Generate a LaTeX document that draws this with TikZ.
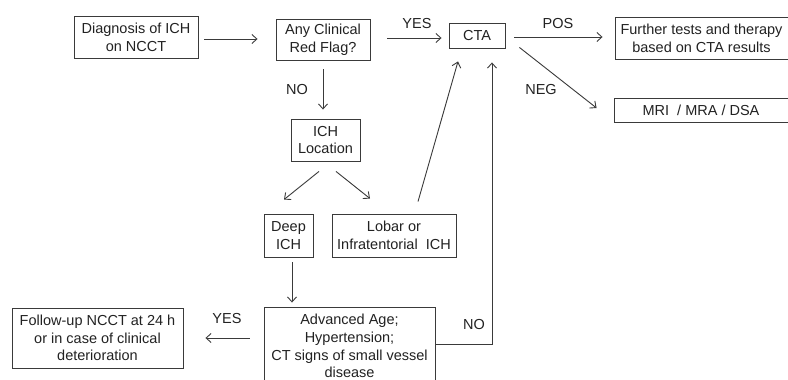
\documentclass[tikz,border=0pt]{standalone}
\usepackage{fontspec}
\setmainfont{Liberation Sans}
\usetikzlibrary{arrows.meta,calc}
\definecolor{ln}{HTML}{3A3A3A}
\definecolor{tx}{HTML}{222222}
\begin{document}
\begin{tikzpicture}[x=1pt,y=-1pt,
  box/.style={draw=ln,line width=0.9pt,inner sep=0pt,align=center,text=tx,
    font=\fontsize{14.5}{17.7}\selectfont},
  lab/.style={inner sep=0pt,text=tx,font=\fontsize{14.5}{17}\selectfont},
  arr/.style={draw=ln,line width=0.9pt,-{Straight Barb[length=5pt,width=9pt]}},
  ]
\useasboundingbox[fill=white] (0,0) rectangle (788,380);
\node[box,minimum width=124pt,minimum height=42pt] (b1) at (136,37) {Diagnosis of ICH\\on NCCT};
\node[box,minimum width=94pt,minimum height=41pt] (b2) at (323,39.5) {Any Clinical\\Red Flag?};
\node[box,minimum width=56pt,minimum height=25pt] (cta) at (477,35.5) {CTA};
\node[box,minimum width=173pt,minimum height=42pt] (fur) at (701.5,38) {Further tests and therapy\\based on CTA results};
\node[box,minimum width=174pt,minimum height=24pt] (mri) at (701,110) {MRI \ / MRA / DSA};
\node[box,minimum width=69pt,minimum height=42pt] (loc) at (325.5,140) {ICH\\Location};
\node[box,minimum width=49pt,minimum height=43pt] (deep) at (288.5,235.5) {Deep\\ICH};
\node[box,minimum width=124pt,minimum height=43pt] (lob) at (394,235.5) {Lobar or\\Infratentorial \ ICH};
\node[box,minimum width=171pt,minimum height=78pt] (adv) at (349.5,346) {Advanced Age;\\Hypertension;\\CT signs of small vessel\\disease};
\node[box,minimum width=171pt,minimum height=60pt] (fol) at (97.5,338) {Follow-up NCCT at 24 h\\or in case of clinical\\deterioration};

\draw[arr] ($(b1.east)+(6,2)$) -- ($(b2.west)+(-18,-0.5)$);
\draw[arr] ($(b2.east)+(17,-1.5)$) -- ($(cta.west)+(-7,2.5)$);
\draw[arr] ($(cta.east)+(9,1.5)$) -- ($(fur.west)+(-12,-1)$);
\draw[arr] ($(cta.south east)+(14,-1)$) -- ($(mri.west)+(-17,-2)$);
\draw[arr] ($(b2.south)+(0,9)$) -- ($(b2.south |- loc.north)+(0,-9)$);
\draw[arr] ($(loc.south)+(-6.5,10)$) -- ($(deep.north)+(-4.5,-14)$);
\draw[arr] ($(loc.south)+(10.5,10)$) -- ($(lob.north)+(-24,-15)$);
\draw[arr] ($(lob.north)+(24,-12)$) -- ($(cta.south)+(-19,13)$);
\draw[arr] ($(deep.south)+(3.5,5)$) -- ($(adv.north)+(-57.5,-4)$);
\draw[arr] ($(adv.west)+(-14,-8)$) -- ($(fol.east)+(22,0)$);
\draw[arr] ($(adv.east)+(0,-2)$) -| ($(cta.south)+(15,14)$);

\node[lab] (lyes1) at (417,24) {YES};
\node[lab] (lpos) at (558,24) {POS};
\node[lab] (lneg) at (541,90) {NEG};
\node[lab] (lno1) at (297,90) {NO};
\node[lab] (lyes2) at (227,319) {YES};
\node[lab] (lno2) at (474,325) {NO};
\end{tikzpicture}
\end{document}
